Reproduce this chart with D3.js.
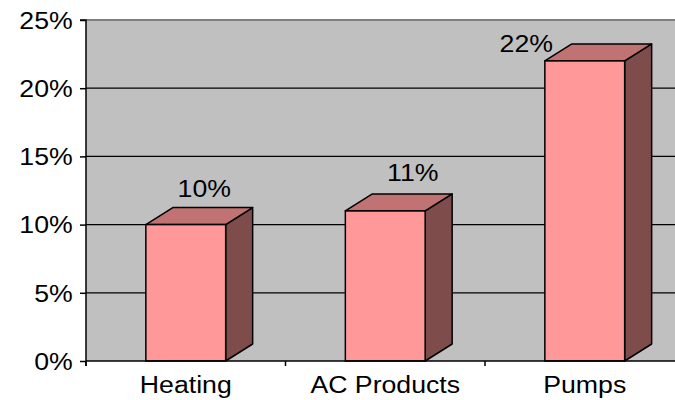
<!DOCTYPE html>
<html>
<head>
<meta charset="utf-8">
<script src="https://cdn.jsdelivr.net/npm/d3@7"></script>
<style>
  html, body { margin: 0; padding: 0; background: #fff; }
  svg { display: block; }
  text { font-family: "Liberation Sans", Arial, sans-serif; fill: #000; }
</style>
</head>
<body>
<svg id="chart" width="675" height="400"></svg>
<script>
// Segment growth by product line
const categories = ["Heating", "AC Products", "Pumps"];
const values = [10, 11, 22];
const yTicks = [0, 5, 10, 15, 20, 25];
const yTickLabels = ["0%", "5%", "10%", "15%", "20%", "25%"];

// layout
const W = 675, H = 400;
const plot = { left: 86, right: 684.5, top: 20, bottom: 361 };
const depth = { dx: 27, dy: 17 };
const textStretch = 1.16;
// where each value label sits relative to its bar's back-top centre
const labelNudge = [[5, -11], [14, -13], [-72, 8]];

const colors = { front: "#FF9999", top: "#C17272", side: "#7F4C4C", wall: "#C0C0C0" };

const svg = d3.select("#chart");

const y = d3.scaleLinear().domain([0, 25]).range([plot.bottom, plot.top]);
const x = d3.scaleBand().domain(categories).range([plot.left, plot.right])
  .paddingInner(0.6).paddingOuter(0.3);
const xCat = d3.scaleBand().domain(categories).range([plot.left, plot.right]);

// plot wall
svg.append("rect")
  .attr("x", plot.left).attr("y", plot.top)
  .attr("width", plot.right - plot.left).attr("height", plot.bottom - plot.top)
  .attr("fill", colors.wall);

// top border of the wall
svg.append("line")
  .attr("x1", plot.left).attr("x2", W)
  .attr("y1", plot.top).attr("y2", plot.top)
  .attr("stroke", "#808080").attr("stroke-width", 2);

// horizontal gridlines
svg.append("g").selectAll("line")
  .data(yTicks.filter(t => t > 0 && t < 25))
  .join("line")
  .attr("x1", plot.left).attr("x2", W)
  .attr("y1", d => y(d)).attr("y2", d => y(d))
  .attr("stroke", "#000").attr("stroke-width", 1.2);

// y axis
const yAxis = svg.append("g")
  .attr("transform", `translate(${plot.left},0)`)
  .call(d3.axisLeft(y).tickValues(yTicks)
    .tickFormat((d, i) => yTickLabels[i]).tickSize(6).tickPadding(0));
yAxis.select(".domain").attr("stroke", "#000").attr("stroke-width", 1.5)
  .attr("d", `M-6,${plot.top}H0V${plot.bottom + 5}`);
yAxis.selectAll(".tick line").attr("stroke", "#000").attr("stroke-width", 1.5);
yAxis.selectAll(".tick text")
  .attr("x", -13.3 / textStretch)
  .attr("dy", "0.36em")
  .attr("transform", `scale(${textStretch},1)`)
  .style("font-size", "23px")
  .style("font-family", "'Liberation Sans', Arial, sans-serif");

// bars (3D boxes)
const bars = svg.append("g").selectAll("g")
  .data(categories.map((c, i) => ({ c, v: values[i], i })))
  .join("g");

bars.append("path") // side face
  .attr("d", d => {
    const x1 = x(d.c) + x.bandwidth(), yt = y(d.v), yb = y(0);
    return `M${x1},${yb}L${x1},${yt}L${x1 + depth.dx},${yt - depth.dy}L${x1 + depth.dx},${yb - depth.dy}Z`;
  })
  .attr("fill", colors.side).attr("stroke", "#000").attr("stroke-width", 1.5)
  .attr("stroke-linejoin", "round");

bars.append("path") // top face
  .attr("d", d => {
    const x0 = x(d.c), x1 = x0 + x.bandwidth(), yt = y(d.v);
    return `M${x0},${yt}L${x0 + depth.dx},${yt - depth.dy}L${x1 + depth.dx},${yt - depth.dy}L${x1},${yt}Z`;
  })
  .attr("fill", colors.top).attr("stroke", "#000").attr("stroke-width", 1.5)
  .attr("stroke-linejoin", "round");

bars.append("rect") // front face
  .attr("x", d => x(d.c)).attr("y", d => y(d.v))
  .attr("width", x.bandwidth()).attr("height", d => y(0) - y(d.v))
  .attr("fill", colors.front).attr("stroke", "#000").attr("stroke-width", 1.5);

// value labels
bars.append("text")
  .attr("transform", d => {
    const cx = x(d.c) + x.bandwidth() / 2 + depth.dx / 2 + labelNudge[d.i][0];
    const cy = y(d.v) - depth.dy + labelNudge[d.i][1];
    return `translate(${cx},${cy}) scale(${textStretch},1)`;
  })
  .attr("text-anchor", "middle")
  .style("font-size", "23px")
  .text(d => d.v + "%");

// x axis baseline and category ticks
svg.append("line")
  .attr("x1", plot.left).attr("x2", W)
  .attr("y1", plot.bottom).attr("y2", plot.bottom)
  .attr("stroke", "#000").attr("stroke-width", 1.5);
svg.append("g").selectAll("line")
  .data(categories.map(c => xCat(c)).concat([xCat(categories[categories.length - 1]) + xCat.bandwidth()]))
  .join("line")
  .attr("x1", d => d).attr("x2", d => d)
  .attr("y1", plot.bottom).attr("y2", plot.bottom + 5)
  .attr("stroke", "#000").attr("stroke-width", 1.5);

const xAxis = svg.append("g")
  .attr("transform", `translate(0,${plot.bottom})`)
  .call(d3.axisBottom(xCat).tickSize(0));
xAxis.select(".domain").remove();
xAxis.selectAll(".tick text")
  .attr("y", 32).attr("dy", 0)
  .attr("transform", `scale(${textStretch},1)`)
  .attr("x", 0)
  .style("font-size", "23px")
  .style("font-family", "'Liberation Sans', Arial, sans-serif");
</script>
</body>
</html>
